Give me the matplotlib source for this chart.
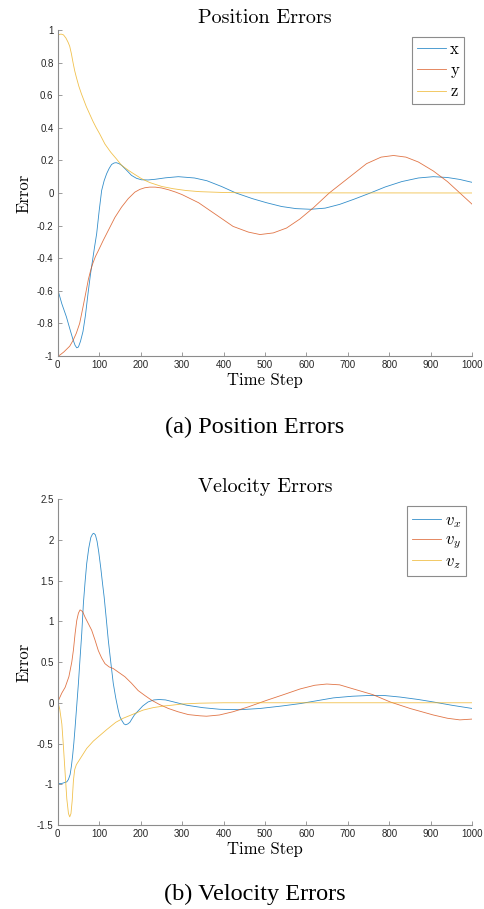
import matplotlib.pyplot as plt

plt.rcParams["mathtext.fontset"] = "cm"
plt.rcParams["axes.unicode_minus"] = False

# position errors
pos_t_x = [0, 1, 10, 21, 30, 37, 42, 46, 50, 55, 61, 67, 73, 79, 84, 89, 94, 100, 106, 112, 118,
           124, 130, 136, 141, 148, 154, 166, 178, 190, 202, 218, 235, 260, 291, 330, 360, 395,
           430, 470, 504, 540, 575, 610, 645, 680, 715, 754, 790, 830, 870, 906, 940, 970, 1000]
pos_x = [0, -0.60, -0.68, -0.76, -0.84, -0.90, -0.935, -0.95, -0.945, -0.91, -0.85, -0.75, -0.62,
         -0.50, -0.415, -0.33, -0.25, -0.11, 0.015, 0.075, 0.118, 0.15, 0.175, 0.184, 0.186, 0.18,
         0.17, 0.14, 0.108, 0.09, 0.081, 0.08, 0.084, 0.093, 0.10, 0.092, 0.075, 0.04, 0.0, -0.035,
         -0.06, -0.083, -0.096, -0.10, -0.093, -0.07, -0.038, 0.0, 0.037, 0.07, 0.092, 0.10, 0.095,
         0.083, 0.065]

pos_t_y = [0, 1, 5, 15, 29, 37, 45, 53, 61, 68, 74, 80, 85, 91, 98, 110, 122, 138, 154, 170, 186,
           198, 210, 222, 235, 250, 267, 285, 300, 320, 340, 360, 383, 423, 460, 488, 520, 552, 584,
           617, 655, 705, 745, 780, 810, 840, 870, 906, 940, 970, 1000]
pos_y = [0, -1.0, -0.995, -0.975, -0.94, -0.905, -0.86, -0.80, -0.70, -0.61, -0.53, -0.47, -0.43,
         -0.39, -0.354, -0.29, -0.23, -0.15, -0.087, -0.035, 0.005, 0.022, 0.032, 0.036, 0.036,
         0.031, 0.02, 0.005, -0.01, -0.035, -0.06, -0.095, -0.135, -0.205, -0.24, -0.255, -0.245,
         -0.215, -0.16, -0.09, 0.0, 0.10, 0.18, 0.22, 0.23, 0.22, 0.19, 0.135, 0.07, 0.0, -0.07]

pos_t_z = [0, 1, 8, 14, 20, 25, 29, 33, 37, 41, 45, 51, 57, 63, 69, 77, 85, 93, 101, 114, 128,
           142, 154, 170, 182, 202, 222, 251, 279, 310, 343, 400, 450, 1000]
pos_z = [0, 0.97, 0.975, 0.97, 0.95, 0.925, 0.90, 0.855, 0.80, 0.75, 0.71, 0.655, 0.61, 0.57, 0.53,
         0.485, 0.44, 0.40, 0.364, 0.30, 0.25, 0.208, 0.17, 0.14, 0.12, 0.088, 0.064, 0.04, 0.026,
         0.015, 0.008, 0.003, 0.001, 0.0]

# velocity errors
vel_t_x = [0, 1, 10, 22, 26, 30, 33, 36, 39, 42, 46, 50, 54, 58, 62, 66, 70, 75, 80, 84, 87, 91,
           95, 99, 104, 108, 112, 117, 122, 128, 134, 140, 146, 150, 155, 160, 164, 169, 174, 180,
           185, 194, 205, 218, 232, 245, 260, 280, 311, 350, 391, 440, 488, 540, 585, 625, 665,
           710, 753, 790, 826, 870, 906, 950, 1000]
vel_x = [0, -0.99, -0.99, -0.97, -0.94, -0.88, -0.78, -0.65, -0.49, -0.30, -0.03, 0.24, 0.55, 0.85,
         1.22, 1.48, 1.71, 1.90, 2.03, 2.07, 2.08, 2.06, 1.98, 1.85, 1.65, 1.47, 1.30, 1.04, 0.77,
         0.50, 0.24, 0.06, -0.09, -0.17, -0.22, -0.26, -0.27, -0.26, -0.24, -0.19, -0.15, -0.10,
         -0.04, 0.01, 0.035, 0.04, 0.035, 0.01, -0.03, -0.06, -0.08, -0.085, -0.07, -0.04, -0.01,
         0.025, 0.06, 0.08, 0.09, 0.088, 0.07, 0.04, 0.01, -0.03, -0.07]

vel_t_y = [0, 1, 10, 18, 27, 34, 38, 42, 46, 50, 54, 60, 66, 74, 82, 90, 98, 106, 114, 124, 134,
           148, 162, 178, 194, 210, 227, 245, 267, 290, 315, 343, 359, 390, 423, 460, 504, 545,
           585, 620, 649, 680, 713, 760, 802, 850, 906, 940, 970, 1000]
vel_y = [0, 0.02, 0.12, 0.19, 0.32, 0.50, 0.65, 0.85, 1.01, 1.10, 1.14, 1.12, 1.05, 0.97, 0.89,
         0.77, 0.64, 0.55, 0.48, 0.44, 0.42, 0.37, 0.32, 0.24, 0.15, 0.09, 0.03, -0.02, -0.07,
         -0.11, -0.145, -0.16, -0.165, -0.15, -0.11, -0.05, 0.03, 0.10, 0.17, 0.215, 0.23, 0.22,
         0.17, 0.10, 0.01, -0.07, -0.15, -0.19, -0.21, -0.20]

vel_t_z = [0, 1, 5, 10, 14, 18, 22, 26, 29, 32, 35, 38, 41, 45, 55, 70, 86, 102, 118, 140, 158,
           182, 206, 230, 255, 275, 300, 343, 400, 1000]
vel_z = [0, 0.0, -0.08, -0.26, -0.55, -0.87, -1.18, -1.36, -1.40, -1.36, -1.20, -0.95, -0.82,
         -0.76, -0.68, -0.56, -0.47, -0.40, -0.33, -0.24, -0.19, -0.14, -0.09, -0.06, -0.04, -0.03,
         -0.015, -0.005, 0.0, 0.0]

x_ticks = [0, 100, 200, 300, 400, 500, 600, 700, 800, 900, 1000]
pos_yticks = [-1, -0.8, -0.6, -0.4, -0.2, 0, 0.2, 0.4, 0.6, 0.8, 1]
vel_yticks = [-1.5, -1, -0.5, 0, 0.5, 1, 1.5, 2, 2.5]

colors = ["#0072BD", "#D95319", "#EDB120"]
serif = "cmr10"


def style_axes(ax, yticks):
    ax.set_xlim(0, 1000)
    ax.set_ylim(yticks[0], yticks[-1])
    ax.set_xticks(x_ticks)
    ax.set_xticklabels([f"{v:g}" for v in x_ticks], fontname="Liberation Sans", fontsize=7)
    ax.set_yticks(yticks)
    ax.set_yticklabels([f"{v:g}" for v in yticks], fontname="Liberation Sans", fontsize=7)
    for s in ["top", "right"]:
        ax.spines[s].set_visible(False)
    for s in ["left", "bottom"]:
        ax.spines[s].set_color("#8c8c8c")
        ax.spines[s].set_linewidth(0.8)
    ax.tick_params(direction="in", length=3, width=0.6, color="#8c8c8c", labelcolor="#262626", pad=3)
    ax.set_xlabel("Time Step", fontname=serif, fontsize=12, labelpad=2)
    ax.set_ylabel("Error", fontname=serif, fontsize=12, labelpad=4)


def add_legend(ax, prop, spacing, anchor):
    leg = ax.legend(loc="upper right", bbox_to_anchor=anchor, prop=prop,
                    fancybox=False, edgecolor="#8c8c8c", framealpha=1, handlelength=1.75,
                    handletextpad=0.25, labelspacing=spacing, borderpad=0.3, borderaxespad=0)
    leg.get_frame().set_linewidth(0.8)


fig = plt.figure(figsize=(4.84, 9.09), dpi=100, facecolor="white")

ax1 = fig.add_axes([0.1192, 0.6084, 0.8566, 0.3586])
ax1.plot(pos_t_x, pos_x, color=colors[0], lw=0.6, alpha=0.8, label="x")
ax1.plot(pos_t_y, pos_y, color=colors[1], lw=0.6, alpha=0.8, label="y")
ax1.plot(pos_t_z, pos_z, color=colors[2], lw=0.6, alpha=0.8, label="z")
style_axes(ax1, pos_yticks)
ax1.set_title("Position Errors", fontname=serif, fontsize=14.5, pad=5)
add_legend(ax1, {"family": serif, "size": 12}, 0.35, (0.98, 0.979))

ax2 = fig.add_axes([0.1192, 0.0924, 0.8566, 0.3586])
ax2.plot(vel_t_x, vel_x, color=colors[0], lw=0.6, alpha=0.8, label=r"$v_x$")
ax2.plot(vel_t_y, vel_y, color=colors[1], lw=0.6, alpha=0.8, label=r"$v_y$")
ax2.plot(vel_t_z, vel_z, color=colors[2], lw=0.6, alpha=0.8, label=r"$v_z$")
style_axes(ax2, vel_yticks)
ax2.set_title("Velocity Errors", fontname=serif, fontsize=14.5, pad=5)
add_legend(ax2, {"size": 12}, 0.05, (0.985, 0.979))

fig.text(255 / 484, 1 - 427 / 909, "(a) Position Errors", ha="center", va="center",
         fontname="Liberation Serif", fontsize=17.5)
fig.text(255 / 484, 1 - 894 / 909, "(b) Velocity Errors", ha="center", va="center",
         fontname="Liberation Serif", fontsize=17.5)

plt.savefig("out.png", dpi=100)
